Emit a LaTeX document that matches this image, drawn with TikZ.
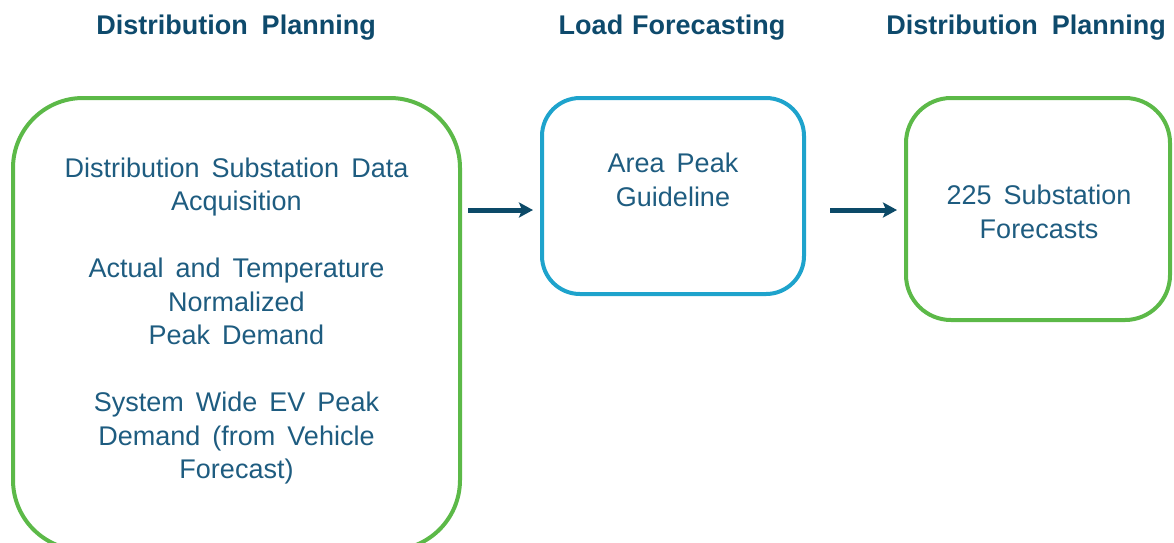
\documentclass[tikz,border=0pt]{standalone}
\usepackage{fontspec}
\setmainfont{Liberation Sans}[WordSpace={1.6}]
\usetikzlibrary{arrows.meta}

\definecolor{planGreen}{RGB}{92,185,72}
\definecolor{loadBlue}{RGB}{30,163,204}
\definecolor{bodyText}{RGB}{30,92,128}
\definecolor{headText}{RGB}{14,74,108}
\definecolor{flowArrow}{RGB}{12,74,104}

\tikzset{
  stagebox/.style={draw, rectangle, line width=4pt, fill=none,
    inner sep=0pt},
  stagetext/.style={align=center, text=bodyText, inner sep=0pt,
    font=\fontsize{27}{33.5}\selectfont},
  heading/.style={text=headText, inner sep=0pt,
    font=\fontsize{27}{33}\selectfont\bfseries},
  flow/.style={draw=flowArrow, line width=5pt,
    -{Stealth[length=14pt,width=15pt,inset=3pt]}},
}

\begin{document}
\begin{tikzpicture}[x=1pt,y=-1pt]
\useasboundingbox (0,0) rectangle (1174,542);
\clip (0,0) rectangle (1174,542);

% column headings
\node[heading] (h1) at (236,28) {Distribution\hspace{14pt}Planning};
\node[heading] (h2) at (672,28) {Load\hspace{9pt}Forecasting};
\node[heading] (h3) at (1026,28) {Distribution\hspace{14pt}Planning};

% planning inputs
\node[stagebox, draw=planGreen, rounded corners=70pt,
      minimum width=447pt, minimum height=452pt] (inputs) at (236.5,324) {};
\node[stagetext] (inputstext) at (236.5,321)
  {Distribution Substation Data\\Acquisition\\[33.5pt]
   Actual and Temperature\\Normalized\\Peak Demand\\[33.5pt]
   System Wide EV Peak\\Demand (from Vehicle\\Forecast)};

% load forecasting guideline
\node[stagebox, draw=loadBlue, rounded corners=38pt,
      minimum width=262pt, minimum height=196pt] (guide) at (673,196) {};
\node[stagetext] (guidetext) at (673,180) {Area Peak\\Guideline};

% substation forecasts
\node[stagebox, draw=planGreen, rounded corners=45pt,
      minimum width=264pt, minimum height=222pt] (subst) at (1038,209) {};
\node[stagetext] (substtext) at (1039,212) {225 Substation\\Forecasts};

% flow arrows
\coordinate (a1end) at ([xshift=-7pt,yshift=-14pt]guide.west);
\coordinate (a2end) at ([xshift=-7pt,yshift=-14pt]guide.west -| subst.west);
\draw[flow] ([xshift=6pt]inputs.east |- a1end) -- (a1end);
\draw[flow] ([xshift=24pt]guide.east |- a2end) -- (a2end);
\end{tikzpicture}
\end{document}
